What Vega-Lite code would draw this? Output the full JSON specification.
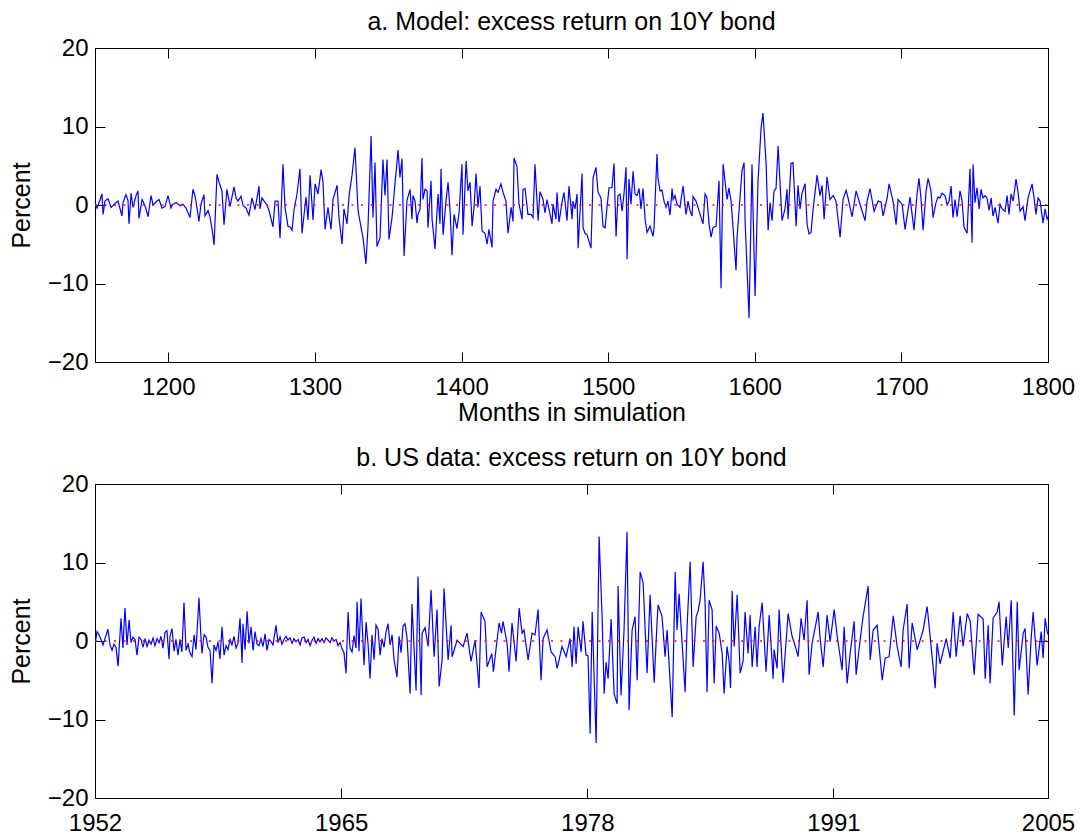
{
"$schema":"https://vega.github.io/schema/vega-lite/v6.json",
"padding":{"left":8,"top":9,"right":5,"bottom":3},
"spacing":19,
"config":{
"font":"Liberation Sans",
"view":{"stroke":"#000","strokeWidth":1},
"axis":{"domain":false,"grid":false,"ticks":true,"tickSize":-10,"tickColor":"#000","tickWidth":1,"labelFont":"Liberation Sans","labelFontSize":24,"labelColor":"#000","titleFont":"Liberation Sans","titleFontSize":25,"titleFontWeight":"normal","titleColor":"#000","labelPadding":23,"labelFlush":false,"labelOverlap":false,"zindex":1},
"axisY":{"labelPadding":17},
"title":{"font":"Liberation Sans","fontSize":25,"fontWeight":"normal","color":"#000","baseline":"alphabetic","offset":1,"anchor":"middle","frame":"group"}
},
"datasets":{
"a":[
{"m":1150,"v":0.2},{"m":1151.4,"v":-0.4},{"m":1154.8,"v":1.4},{"m":1155.5,"v":-1.2},{"m":1156.8,"v":0.5},{"m":1158.9,"v":0.8},{"m":1161,"v":-0.3},{"m":1163.6,"v":0.2},{"m":1165.7,"v":0.5},{"m":1168.4,"v":-1.4},{"m":1169.1,"v":0.3},{"m":1171.1,"v":1.3},{"m":1172.5,"v":0.6},{"m":1173.2,"v":-2.4},{"m":1174.6,"v":1.5},{"m":1175.9,"v":-0.3},{"m":1178,"v":1.2},{"m":1179.3,"v":1.8},{"m":1180,"v":-1.7},{"m":1182.1,"v":0.7},{"m":1184.1,"v":-0.1},{"m":1186.2,"v":-1.5},{"m":1188.2,"v":1.2},{"m":1189.6,"v":0},{"m":1192.3,"v":0.5},{"m":1193.7,"v":0.7},{"m":1195.7,"v":-0.4},{"m":1197.7,"v":-0.2},{"m":1199.8,"v":1.2},{"m":1201.8,"v":-0.4},{"m":1203.2,"v":0.1},{"m":1205.3,"v":0.3},{"m":1208,"v":-0.1},{"m":1210,"v":0.1},{"m":1212.1,"v":-0.4},{"m":1214.8,"v":-1.6},{"m":1216.8,"v":2.0},{"m":1218.2,"v":1.2},{"m":1219.6,"v":-0.4},{"m":1220.9,"v":-2.1},{"m":1222.3,"v":0.1},{"m":1224.3,"v":1.3},{"m":1225,"v":-1.4},{"m":1227.1,"v":-0.7},{"m":1228.4,"v":-1.5},{"m":1229.8,"v":-3.0},{"m":1231.2,"v":-5.1},{"m":1233.2,"v":3.9},{"m":1234.6,"v":2.9},{"m":1236.6,"v":1.8},{"m":1238,"v":-2.5},{"m":1240,"v":2.0},{"m":1242.1,"v":-0.2},{"m":1244.8,"v":2.3},{"m":1246.2,"v":0.9},{"m":1247.5,"v":0.5},{"m":1249.6,"v":1.1},{"m":1251,"v":-0.1},{"m":1253,"v":-0.4},{"m":1255,"v":-1.3},{"m":1257.1,"v":0.9},{"m":1259.1,"v":-0.6},{"m":1261.9,"v":2.4},{"m":1262.5,"v":-0.5},{"m":1263.9,"v":0.9},{"m":1265.3,"v":0.5},{"m":1267.3,"v":0},{"m":1268.7,"v":-0.7},{"m":1271.4,"v":-2.8},{"m":1272.8,"v":0.5},{"m":1274.8,"v":0.5},{"m":1276.2,"v":-4.2},{"m":1278.2,"v":5.2},{"m":1279.6,"v":-0.3},{"m":1281.6,"v":-2.7},{"m":1283,"v":-2.8},{"m":1284.4,"v":-3.2},{"m":1285.7,"v":-0.7},{"m":1287.8,"v":1.4},{"m":1289.8,"v":4.6},{"m":1291.2,"v":-3.6},{"m":1293.9,"v":1.0},{"m":1295.3,"v":-1.9},{"m":1296.7,"v":3.8},{"m":1298.7,"v":-1.9},{"m":1300.1,"v":2.7},{"m":1302.1,"v":1.4},{"m":1304.2,"v":4.5},{"m":1305.5,"v":2.9},{"m":1306.9,"v":-3.1},{"m":1308.9,"v":-0.3},{"m":1311,"v":-3.1},{"m":1312.3,"v":0.7},{"m":1315.1,"v":2.5},{"m":1316.4,"v":-1.6},{"m":1318.5,"v":-5.0},{"m":1319.8,"v":-0.5},{"m":1321.9,"v":-2.4},{"m":1323.3,"v":1.2},{"m":1325.3,"v":3.8},{"m":1327.3,"v":7.3},{"m":1329.4,"v":-0.7},{"m":1331.4,"v":-2.8},{"m":1332.8,"v":-4.2},{"m":1334.8,"v":-7.5},{"m":1336.2,"v":-2.8},{"m":1338.3,"v":8.8},{"m":1339.6,"v":-1.6},{"m":1341,"v":5.4},{"m":1342.3,"v":-5.3},{"m":1344.4,"v":-4.2},{"m":1346.4,"v":5.8},{"m":1347.8,"v":1.2},{"m":1349.2,"v":5.8},{"m":1350.5,"v":-4.4},{"m":1352.6,"v":-1.6},{"m":1354.6,"v":2.7},{"m":1356.7,"v":7.0},{"m":1358,"v":3.5},{"m":1359.4,"v":5.9},{"m":1360.8,"v":-6.5},{"m":1362.8,"v":0.6},{"m":1364.9,"v":2.0},{"m":1366.2,"v":-1.8},{"m":1366.9,"v":1.2},{"m":1368.3,"v":0.5},{"m":1369.6,"v":-2.3},{"m":1370.3,"v":-1.2},{"m":1371.7,"v":-0.5},{"m":1373,"v":6.0},{"m":1373.7,"v":0.7},{"m":1375.1,"v":2.0},{"m":1376.5,"v":1.8},{"m":1377.1,"v":-2.9},{"m":1379.2,"v":3.1},{"m":1379.9,"v":-1.8},{"m":1381.9,"v":-5.6},{"m":1383.3,"v":-0.7},{"m":1384,"v":1.4},{"m":1385.3,"v":-2.4},{"m":1386,"v":4.6},{"m":1387.4,"v":-3.8},{"m":1389.4,"v":0.5},{"m":1390.8,"v":2.9},{"m":1392.2,"v":-0.8},{"m":1393.5,"v":-6.4},{"m":1394.9,"v":-1.2},{"m":1396.9,"v":-3.0},{"m":1398.3,"v":-1.0},{"m":1400.3,"v":5.2},{"m":1401,"v":-3.8},{"m":1403.1,"v":5.6},{"m":1404.4,"v":1.8},{"m":1405.8,"v":2.9},{"m":1407.2,"v":-2.7},{"m":1408.5,"v":-0.3},{"m":1409.9,"v":4.0},{"m":1411.2,"v":-0.3},{"m":1412.6,"v":2.4},{"m":1414,"v":-3.3},{"m":1416,"v":-3.6},{"m":1417.4,"v":-5.0},{"m":1418.7,"v":-3.1},{"m":1420.8,"v":-5.4},{"m":1421.5,"v":0.5},{"m":1423.5,"v":2.0},{"m":1424.9,"v":1.6},{"m":1426.9,"v":2.7},{"m":1428.3,"v":1.6},{"m":1430.3,"v":0.5},{"m":1431.7,"v":-3.6},{"m":1433.8,"v":-0.3},{"m":1435.1,"v":-2.1},{"m":1435.8,"v":6.0},{"m":1437.8,"v":4.9},{"m":1439.2,"v":0.1},{"m":1441.3,"v":-1.8},{"m":1441.9,"v":2.0},{"m":1443.3,"v":2.1},{"m":1445.3,"v":-1.2},{"m":1447.4,"v":-1.2},{"m":1448.8,"v":-1.6},{"m":1450.1,"v":5.2},{"m":1452.2,"v":-2.0},{"m":1453.5,"v":1.7},{"m":1455.6,"v":0.7},{"m":1456.9,"v":-1.0},{"m":1458.3,"v":0.7},{"m":1460.4,"v":-1.2},{"m":1461.7,"v":-2.4},{"m":1462.4,"v":0.1},{"m":1464.4,"v":-1.8},{"m":1465.1,"v":1.6},{"m":1466.5,"v":-2.2},{"m":1468.5,"v":0.3},{"m":1469.9,"v":1.6},{"m":1471.9,"v":-2.0},{"m":1473.3,"v":2.4},{"m":1475.4,"v":-1.8},{"m":1476,"v":0.5},{"m":1477.4,"v":-0.5},{"m":1478.8,"v":1.4},{"m":1479.5,"v":-5.5},{"m":1482.2,"v":4.0},{"m":1482.9,"v":-2.9},{"m":1484.2,"v":-3.6},{"m":1485.6,"v":-3.8},{"m":1488.3,"v":-5.5},{"m":1489.7,"v":3.5},{"m":1491.7,"v":4.8},{"m":1493.1,"v":1.6},{"m":1495.1,"v":0.9},{"m":1496.5,"v":-2.7},{"m":1497.9,"v":-2.9},{"m":1499.2,"v":-0.3},{"m":1500.6,"v":2.2},{"m":1502.6,"v":2.2},{"m":1504,"v":5.3},{"m":1505.4,"v":-4.0},{"m":1506.7,"v":1.2},{"m":1508.1,"v":1.4},{"m":1509.5,"v":-0.8},{"m":1510.8,"v":1.4},{"m":1512.2,"v":4.8},{"m":1512.9,"v":-6.9},{"m":1514.2,"v":3.3},{"m":1515.6,"v":0.1},{"m":1517,"v":4.3},{"m":1518.3,"v":1.4},{"m":1519.7,"v":1.2},{"m":1521.1,"v":2.1},{"m":1522.4,"v":-0.5},{"m":1523.8,"v":2.1},{"m":1525.2,"v":-1.8},{"m":1526.5,"v":-3.5},{"m":1528.6,"v":-2.7},{"m":1530.6,"v":-4.0},{"m":1531.3,"v":-2.9},{"m":1533.3,"v":6.5},{"m":1534,"v":3.4},{"m":1535.4,"v":1.8},{"m":1536.7,"v":1.9},{"m":1537.4,"v":1.2},{"m":1538.1,"v":0.5},{"m":1539.5,"v":-0.3},{"m":1540.8,"v":0.5},{"m":1542.2,"v":-1.3},{"m":1543.6,"v":2.1},{"m":1544.3,"v":0.7},{"m":1545.6,"v":1.2},{"m":1547,"v":0.1},{"m":1549,"v":-0.3},{"m":1549.7,"v":0.7},{"m":1551.1,"v":2.4},{"m":1553.1,"v":-1.2},{"m":1554.5,"v":0.5},{"m":1555.9,"v":-0.8},{"m":1557.2,"v":-1.4},{"m":1557.9,"v":1.1},{"m":1559.9,"v":0.5},{"m":1561.3,"v":-0.3},{"m":1562.7,"v":-1.2},{"m":1564.7,"v":-2.4},{"m":1566.1,"v":1.4},{"m":1567.4,"v":0.9},{"m":1568.8,"v":-2.4},{"m":1570.2,"v":-4.1},{"m":1571.5,"v":-2.9},{"m":1573.6,"v":-2.7},{"m":1575.6,"v":3.1},{"m":1577,"v":-10.6},{"m":1578.4,"v":5.2},{"m":1581.1,"v":0.7},{"m":1582.4,"v":2.2},{"m":1583.8,"v":0.5},{"m":1585.2,"v":-2.9},{"m":1587.2,"v":-8.3},{"m":1587.9,"v":-4.2},{"m":1591.3,"v":4.4},{"m":1592.7,"v":5.4},{"m":1593.4,"v":-2.0},{"m":1596.1,"v":-14.4},{"m":1598.1,"v":5.2},{"m":1600.2,"v":-11.6},{"m":1602.2,"v":3.0},{"m":1604.3,"v":9.8},{"m":1605.6,"v":11.7},{"m":1607.7,"v":5.4},{"m":1609.1,"v":-3.2},{"m":1610.4,"v":0.3},{"m":1611.8,"v":-2.0},{"m":1613.1,"v":1.8},{"m":1614.5,"v":2.1},{"m":1615.9,"v":7.5},{"m":1618.6,"v":-2.0},{"m":1620.6,"v":-0.5},{"m":1622,"v":2.0},{"m":1622.7,"v":-1.8},{"m":1624.7,"v":5.3},{"m":1626.1,"v":5.4},{"m":1628.2,"v":-2.7},{"m":1629.5,"v":2.5},{"m":1630.9,"v":-0.5},{"m":1632.2,"v":1.5},{"m":1634.3,"v":2.7},{"m":1635.7,"v":-2.5},{"m":1637,"v":-3.7},{"m":1638.4,"v":-3.5},{"m":1639.8,"v":-0.5},{"m":1642.5,"v":3.8},{"m":1644.5,"v":1.2},{"m":1645.9,"v":2.5},{"m":1647.3,"v":-1.8},{"m":1649.3,"v":3.6},{"m":1651.3,"v":0.7},{"m":1653.4,"v":1.2},{"m":1655.4,"v":0.5},{"m":1658.2,"v":-4.1},{"m":1660.2,"v":0.7},{"m":1662.3,"v":1.9},{"m":1663.6,"v":0.9},{"m":1666.4,"v":-1.5},{"m":1669.1,"v":1.8},{"m":1671.8,"v":0.1},{"m":1675.2,"v":-2.0},{"m":1676.6,"v":0.5},{"m":1678.6,"v":2.1},{"m":1681.4,"v":-0.8},{"m":1684.1,"v":0.5},{"m":1686.1,"v":0.4},{"m":1687.5,"v":-1.4},{"m":1690.2,"v":0.8},{"m":1691.6,"v":2.7},{"m":1694.3,"v":0.5},{"m":1696.4,"v":-2.5},{"m":1697.7,"v":0.7},{"m":1700.5,"v":0.1},{"m":1702.5,"v":-3.1},{"m":1705.9,"v":1.0},{"m":1708.6,"v":-3.2},{"m":1710.7,"v":1.4},{"m":1712,"v":3.4},{"m":1713.4,"v":0.8},{"m":1714.8,"v":-3.2},{"m":1716.8,"v":1.7},{"m":1718.2,"v":3.4},{"m":1720.2,"v":1.8},{"m":1721.6,"v":-1.6},{"m":1723.6,"v":0.3},{"m":1725,"v":1.0},{"m":1726.4,"v":0.9},{"m":1727.7,"v":1.5},{"m":1729.8,"v":1.2},{"m":1731.2,"v":0},{"m":1732.5,"v":0.5},{"m":1733.9,"v":2.4},{"m":1735.2,"v":-1.6},{"m":1736.6,"v":0.7},{"m":1738,"v":-1.5},{"m":1740,"v":1.8},{"m":1741.4,"v":0.5},{"m":1742.7,"v":-2.8},{"m":1744.8,"v":-3.6},{"m":1746.8,"v":4.6},{"m":1748.2,"v":-4.8},{"m":1748.9,"v":5.2},{"m":1750.2,"v":0.3},{"m":1751.6,"v":2.2},{"m":1753,"v":-0.5},{"m":1754.3,"v":2.0},{"m":1755.7,"v":0.9},{"m":1757.1,"v":1.2},{"m":1758.4,"v":0.9},{"m":1759.8,"v":-0.7},{"m":1761.2,"v":0.9},{"m":1762.5,"v":-1.4},{"m":1763.9,"v":-0.3},{"m":1765.9,"v":-2.3},{"m":1767.3,"v":0.1},{"m":1768.7,"v":-0.5},{"m":1770.7,"v":-0.8},{"m":1772.1,"v":1.2},{"m":1773.4,"v":-1.2},{"m":1774.8,"v":1.4},{"m":1776.2,"v":0.5},{"m":1778.2,"v":3.3},{"m":1779.6,"v":1.6},{"m":1780.9,"v":-0.8},{"m":1783,"v":-0.2},{"m":1784.3,"v":-2.0},{"m":1786.4,"v":0.9},{"m":1789.1,"v":2.7},{"m":1790.5,"v":0.9},{"m":1791.8,"v":-1.2},{"m":1793.2,"v":0.9},{"m":1794.6,"v":0.5},{"m":1796.6,"v":-2.3},{"m":1798,"v":-0.5},{"m":1799.4,"v":-1.8},{"m":1800,"v":-1.5}
],
"b":[
{"t":0,"v":-0.4},{"t":1.3,"v":1.2},{"t":2.5,"v":0.8},{"t":3.8,"v":0.2},{"t":5.1,"v":-0.5},{"t":6.3,"v":0.3},{"t":8.2,"v":1.5},{"t":9.5,"v":-0.5},{"t":10.8,"v":-1.2},{"t":12,"v":-0.4},{"t":13.3,"v":-0.8},{"t":14.6,"v":-3.2},{"t":16.5,"v":2.9},{"t":17.7,"v":-0.9},{"t":19,"v":4.2},{"t":20.3,"v":-0.5},{"t":21.6,"v":2.7},{"t":22.8,"v":-0.2},{"t":24.1,"v":0.5},{"t":25.4,"v":0.2},{"t":26.6,"v":-1.8},{"t":27.9,"v":0.5},{"t":29.2,"v":0.2},{"t":30.4,"v":-0.8},{"t":31.7,"v":0.3},{"t":33,"v":-0.7},{"t":34.2,"v":0.1},{"t":35.5,"v":-0.4},{"t":36.8,"v":0.4},{"t":38,"v":-0.6},{"t":39.3,"v":0.3},{"t":40.6,"v":-0.2},{"t":41.8,"v":0.6},{"t":43.1,"v":-0.9},{"t":44.4,"v":1.1},{"t":45.6,"v":1.3},{"t":46.9,"v":-2.3},{"t":47.5,"v":0.6},{"t":48.8,"v":1.6},{"t":50.1,"v":-1.3},{"t":51.3,"v":0.2},{"t":52.6,"v":-1.8},{"t":53.9,"v":0.2},{"t":55.1,"v":-1.4},{"t":56.4,"v":4.9},{"t":57.7,"v":-1.2},{"t":59,"v":-0.4},{"t":60.2,"v":-1.5},{"t":61.5,"v":-2.0},{"t":62.8,"v":0.8},{"t":64,"v":-1.1},{"t":65.9,"v":5.5},{"t":67.2,"v":0.3},{"t":67.8,"v":-1.6},{"t":69.1,"v":0.8},{"t":70.4,"v":0.5},{"t":71.6,"v":-0.8},{"t":72.9,"v":-1.2},{"t":74.2,"v":-5.4},{"t":75.4,"v":-0.5},{"t":76.7,"v":-1.2},{"t":78,"v":-0.1},{"t":79.2,"v":-2.3},{"t":80.5,"v":1.8},{"t":81.8,"v":-1.8},{"t":83,"v":-0.6},{"t":84.3,"v":-1.1},{"t":85.6,"v":0.2},{"t":86.8,"v":-0.5},{"t":88.1,"v":0.6},{"t":89.4,"v":-0.9},{"t":90.6,"v":-0.3},{"t":91.9,"v":2.9},{"t":93.2,"v":-2.8},{"t":93.8,"v":2.2},{"t":95.1,"v":-1.1},{"t":96.4,"v":3.8},{"t":97.6,"v":-0.3},{"t":98.9,"v":1.8},{"t":100.2,"v":-1.2},{"t":101.4,"v":1.2},{"t":102.7,"v":-0.4},{"t":104,"v":-0.6},{"t":105.2,"v":0.3},{"t":106.5,"v":-0.7},{"t":107.8,"v":0.9},{"t":109,"v":-1.2},{"t":110.3,"v":0.2},{"t":111.6,"v":-0.1},{"t":112.8,"v":-0.5},{"t":114.7,"v":2.0},{"t":116,"v":-0.2},{"t":117.3,"v":0.5},{"t":118.5,"v":-0.4},{"t":119.8,"v":0.2},{"t":121.1,"v":0.6},{"t":122.3,"v":0.1},{"t":123.6,"v":0.4},{"t":124.9,"v":-0.3},{"t":126.1,"v":0.3},{"t":127.4,"v":-0.1},{"t":128.7,"v":0.2},{"t":130,"v":-0.5},{"t":131.2,"v":0.4},{"t":132.5,"v":0.5},{"t":133.8,"v":-0.2},{"t":135,"v":0.2},{"t":136.3,"v":-0.6},{"t":137.6,"v":0.1},{"t":138.8,"v":0.5},{"t":140.1,"v":-0.3},{"t":141.4,"v":0.3},{"t":142.6,"v":-0.1},{"t":143.9,"v":0.3},{"t":145.2,"v":-0.2},{"t":146.4,"v":0.4},{"t":147.7,"v":0.1},{"t":149,"v":-0.2},{"t":150.2,"v":0.4},{"t":151.5,"v":0},{"t":152.8,"v":0.2},{"t":154,"v":-0.6},{"t":155.3,"v":-0.2},{"t":156.6,"v":-1.0},{"t":157.8,"v":-1.5},{"t":159.1,"v":-4.1},{"t":160.4,"v":3.7},{"t":161.6,"v":-0.9},{"t":162.9,"v":-1.4},{"t":164.2,"v":0.7},{"t":165.4,"v":-0.9},{"t":166.1,"v":5.0},{"t":167.3,"v":-1.3},{"t":168.6,"v":5.4},{"t":170.5,"v":-3.1},{"t":171.8,"v":2.4},{"t":173.1,"v":-0.5},{"t":174.3,"v":-4.8},{"t":175.6,"v":0.8},{"t":176.9,"v":-2.4},{"t":178.1,"v":2.0},{"t":179.4,"v":1.5},{"t":180.7,"v":-1.8},{"t":181.9,"v":0.3},{"t":183.2,"v":-0.8},{"t":184.5,"v":1.2},{"t":185.7,"v":2.2},{"t":187,"v":-0.5},{"t":188.3,"v":0.8},{"t":189.5,"v":-2.3},{"t":191.4,"v":-4.6},{"t":192.7,"v":0.6},{"t":194,"v":-1.5},{"t":195.2,"v":1.9},{"t":196.5,"v":2.2},{"t":197.8,"v":0.3},{"t":199.7,"v":-6.7},{"t":200.9,"v":4.7},{"t":203.5,"v":-6.3},{"t":204.7,"v":8.2},{"t":206.7,"v":-6.9},{"t":207.3,"v":1.0},{"t":209.2,"v":1.7},{"t":211.1,"v":-0.7},{"t":213,"v":6.5},{"t":214.9,"v":-2.0},{"t":216.8,"v":4.0},{"t":218.1,"v":-5.8},{"t":220,"v":-2.4},{"t":221.2,"v":6.7},{"t":223.8,"v":-2.4},{"t":225.7,"v":2.0},{"t":226.3,"v":-2.0},{"t":229.5,"v":0.1},{"t":231.4,"v":-0.3},{"t":233.3,"v":-0.7},{"t":235.8,"v":1.0},{"t":238.3,"v":-2.6},{"t":240.9,"v":0.1},{"t":243.4,"v":-6.0},{"t":244.7,"v":3.7},{"t":247.2,"v":2.5},{"t":248.5,"v":-3.3},{"t":251.5,"v":-1.6},{"t":252.5,"v":-3.9},{"t":256.1,"v":2.3},{"t":257.6,"v":1.0},{"t":258.6,"v":2.5},{"t":261.2,"v":-0.3},{"t":262.4,"v":-3.9},{"t":264.3,"v":2.3},{"t":266.9,"v":-2.6},{"t":268.8,"v":4.2},{"t":270.7,"v":1.0},{"t":271.9,"v":1.4},{"t":274.5,"v":-2.4},{"t":277,"v":1.0},{"t":278.9,"v":0.8},{"t":280.8,"v":4.0},{"t":282.7,"v":-5.0},{"t":284,"v":0.3},{"t":286.5,"v":1.4},{"t":289.1,"v":-1.4},{"t":291.6,"v":-2.0},{"t":292.9,"v":-3.5},{"t":296,"v":-0.7},{"t":298.6,"v":-2.0},{"t":301.1,"v":0.3},{"t":302.4,"v":-3.3},{"t":303.6,"v":1.8},{"t":304.9,"v":-2.9},{"t":306.2,"v":1.8},{"t":308.1,"v":-1.4},{"t":309.3,"v":2.5},{"t":311.2,"v":-1.8},{"t":312.5,"v":-1.9},{"t":313.8,"v":-11.8},{"t":315.1,"v":3.7},{"t":317.6,"v":-13.0},{"t":319.5,"v":13.3},{"t":321.4,"v":3.1},{"t":322.7,"v":-6.7},{"t":323.9,"v":-2.7},{"t":325.2,"v":-4.8},{"t":327.1,"v":2.8},{"t":329,"v":-6.7},{"t":330.9,"v":-8.0},{"t":331.5,"v":7.0},{"t":333.4,"v":-6.9},{"t":335.3,"v":1.4},{"t":337.2,"v":13.9},{"t":338.5,"v":-8.8},{"t":340.4,"v":1.4},{"t":342.3,"v":3.1},{"t":343.6,"v":-5.0},{"t":345.5,"v":8.8},{"t":347.4,"v":7.4},{"t":349.9,"v":-4.1},{"t":351.8,"v":5.9},{"t":354.4,"v":-5.3},{"t":356.3,"v":2.7},{"t":356.9,"v":4.6},{"t":359.4,"v":3.1},{"t":361.3,"v":-2.0},{"t":362.6,"v":1.4},{"t":365.8,"v":-9.7},{"t":367.7,"v":8.8},{"t":368.9,"v":1.4},{"t":370.2,"v":6.0},{"t":372.1,"v":-0.3},{"t":374,"v":-6.5},{"t":375.3,"v":2.0},{"t":377.2,"v":10.1},{"t":379.1,"v":-3.3},{"t":381,"v":3.1},{"t":382.2,"v":3.8},{"t":383.5,"v":5.2},{"t":385.4,"v":10.1},{"t":386.7,"v":4.6},{"t":387.9,"v":-6.5},{"t":389.2,"v":5.2},{"t":391.1,"v":4.0},{"t":392.4,"v":-5.4},{"t":393.7,"v":1.9},{"t":395.6,"v":1.0},{"t":397.5,"v":-1.6},{"t":398.7,"v":-6.7},{"t":400.6,"v":-0.7},{"t":401.9,"v":-2.6},{"t":402.8,"v":-6.0},{"t":403.8,"v":6.4},{"t":405.1,"v":-0.7},{"t":407,"v":5.9},{"t":408.9,"v":-4.1},{"t":410.8,"v":-2.5},{"t":412,"v":3.7},{"t":413.9,"v":-1.6},{"t":415.2,"v":3.3},{"t":416.5,"v":-3.3},{"t":418.4,"v":1.8},{"t":419.6,"v":-3.3},{"t":420.9,"v":1.8},{"t":422.8,"v":4.9},{"t":425.3,"v":-3.9},{"t":427.3,"v":3.3},{"t":429.8,"v":-4.8},{"t":430.4,"v":-1.1},{"t":432.3,"v":-3.5},{"t":433.6,"v":4.0},{"t":436.1,"v":-5.3},{"t":439.3,"v":3.5},{"t":441.8,"v":0.6},{"t":443.7,"v":-0.6},{"t":445.6,"v":-2.0},{"t":447.5,"v":2.9},{"t":449.4,"v":0.1},{"t":451.3,"v":5.2},{"t":452.6,"v":-4.3},{"t":454.5,"v":-0.3},{"t":457,"v":2.3},{"t":458.3,"v":3.7},{"t":459.6,"v":0.3},{"t":461.5,"v":-3.3},{"t":464,"v":3.3},{"t":465.9,"v":-0.1},{"t":468.5,"v":4.0},{"t":470.4,"v":0.6},{"t":473.5,"v":-3.7},{"t":474.8,"v":1.8},{"t":476.7,"v":-5.4},{"t":478.6,"v":-1.6},{"t":481.1,"v":2.5},{"t":482.4,"v":-4.3},{"t":484.9,"v":0.1},{"t":486.8,"v":3.1},{"t":490,"v":7.0},{"t":491.3,"v":-2.4},{"t":493.2,"v":1.4},{"t":495.7,"v":2.0},{"t":498.9,"v":-5.0},{"t":500.8,"v":-2.2},{"t":503.3,"v":-2.0},{"t":505.9,"v":3.2},{"t":508.4,"v":-0.7},{"t":510.9,"v":-3.3},{"t":512.2,"v":1.4},{"t":514.7,"v":4.7},{"t":516,"v":-3.5},{"t":517.9,"v":2.3},{"t":521.1,"v":-1.1},{"t":524.9,"v":1.4},{"t":527.4,"v":4.4},{"t":528.7,"v":1.8},{"t":532.5,"v":-6.0},{"t":533.7,"v":-0.3},{"t":535.6,"v":-2.9},{"t":539.5,"v":0.3},{"t":542,"v":-2.2},{"t":543.9,"v":3.7},{"t":545.8,"v":-2.0},{"t":548.3,"v":3.2},{"t":550.2,"v":-0.7},{"t":552.8,"v":3.5},{"t":554.7,"v":2.5},{"t":557.2,"v":-4.3},{"t":559.7,"v":3.4},{"t":562.9,"v":2.8},{"t":564.2,"v":-4.8},{"t":566.1,"v":2.0},{"t":567.3,"v":-5.4},{"t":569.2,"v":2.9},{"t":571.8,"v":3.7},{"t":573,"v":5.0},{"t":575,"v":-3.1},{"t":577.5,"v":3.1},{"t":578.8,"v":-0.9},{"t":580.7,"v":5.2},{"t":582.6,"v":-9.5},{"t":584.5,"v":5.0},{"t":585.7,"v":-3.7},{"t":588.3,"v":1.0},{"t":589.5,"v":1.6},{"t":591.4,"v":-6.8},{"t":593.3,"v":0.3},{"t":594.6,"v":3.7},{"t":597.1,"v":-3.1},{"t":599.7,"v":1.2},{"t":600.9,"v":-2.2},{"t":602.2,"v":2.9},{"t":603.5,"v":1.2},{"t":604,"v":0.8}
]
},
"vconcat":[
{
"width":953,"height":314,
"title":{"text":"a. Model: excess return on 10Y bond"},
"layer":[
{"data":{"name":"a"},"mark":{"type":"line","color":"#0000ff","strokeWidth":1.2,"clip":true},
"encoding":{
"x":{"field":"m","type":"quantitative","scale":{"domain":[1150,1800],"nice":false,"zero":false},
"axis":{"orient":"bottom","values":[1200,1300,1400,1500,1600,1700,1800],"format":"d","title":"Months in simulation","titleX":476.5,"titleY":58,"titleBaseline":"alphabetic","titleAlign":"center"}},
"y":{"field":"v","type":"quantitative","scale":{"domain":[-20,20],"nice":false,"zero":false},
"axis":{"orient":"left","values":[-20,-10,0,10,20],"title":"Percent","titleX":-66,"titleY":157,"titleBaseline":"alphabetic","titleAlign":"center","titleAngle":-90}}
}},
{"data":{"values":[{}]},"mark":{"type":"rule","color":"#ff0000","strokeDash":[2,7.5],"strokeWidth":1.3},
"encoding":{
"x":{"datum":1150,"type":"quantitative","axis":{"orient":"top","values":[1200,1300,1400,1500,1600,1700,1800],"labels":false,"title":null}},
"x2":{"datum":1800},
"y":{"datum":0,"type":"quantitative","axis":{"orient":"right","values":[-20,-10,0,10,20],"labels":false,"title":null}}
}}
],
"resolve":{"axis":{"x":"independent","y":"independent"}}
},
{
"width":953,"height":314,
"title":{"text":"b. US data: excess return on 10Y bond"},
"layer":[
{"data":{"name":"b"},"mark":{"type":"line","color":"#0000ff","strokeWidth":1.2,"clip":true},
"encoding":{
"x":{"field":"t","type":"quantitative","scale":{"domain":[0,604],"nice":false,"zero":false},
"axis":{"orient":"bottom","values":[0,156,312,468,604],"labelExpr":"datum.value == 0 ? '1952' : datum.value == 156 ? '1965' : datum.value == 312 ? '1978' : datum.value == 468 ? '1991' : '2005'","title":null}},
"y":{"field":"v","type":"quantitative","scale":{"domain":[-20,20],"nice":false,"zero":false},
"axis":{"orient":"left","values":[-20,-10,0,10,20],"title":"Percent","titleX":-66,"titleY":157,"titleBaseline":"alphabetic","titleAlign":"center","titleAngle":-90}}
}},
{"data":{"values":[{}]},"mark":{"type":"rule","color":"#ff0000","strokeDash":[2,7.5],"strokeWidth":1.3},
"encoding":{
"x":{"datum":0,"type":"quantitative","axis":{"orient":"top","values":[0,156,312,468,604],"labels":false,"title":null}},
"x2":{"datum":604},
"y":{"datum":0,"type":"quantitative","axis":{"orient":"right","values":[-20,-10,0,10,20],"labels":false,"title":null}}
}}
],
"resolve":{"axis":{"x":"independent","y":"independent"}}
}
]
}
